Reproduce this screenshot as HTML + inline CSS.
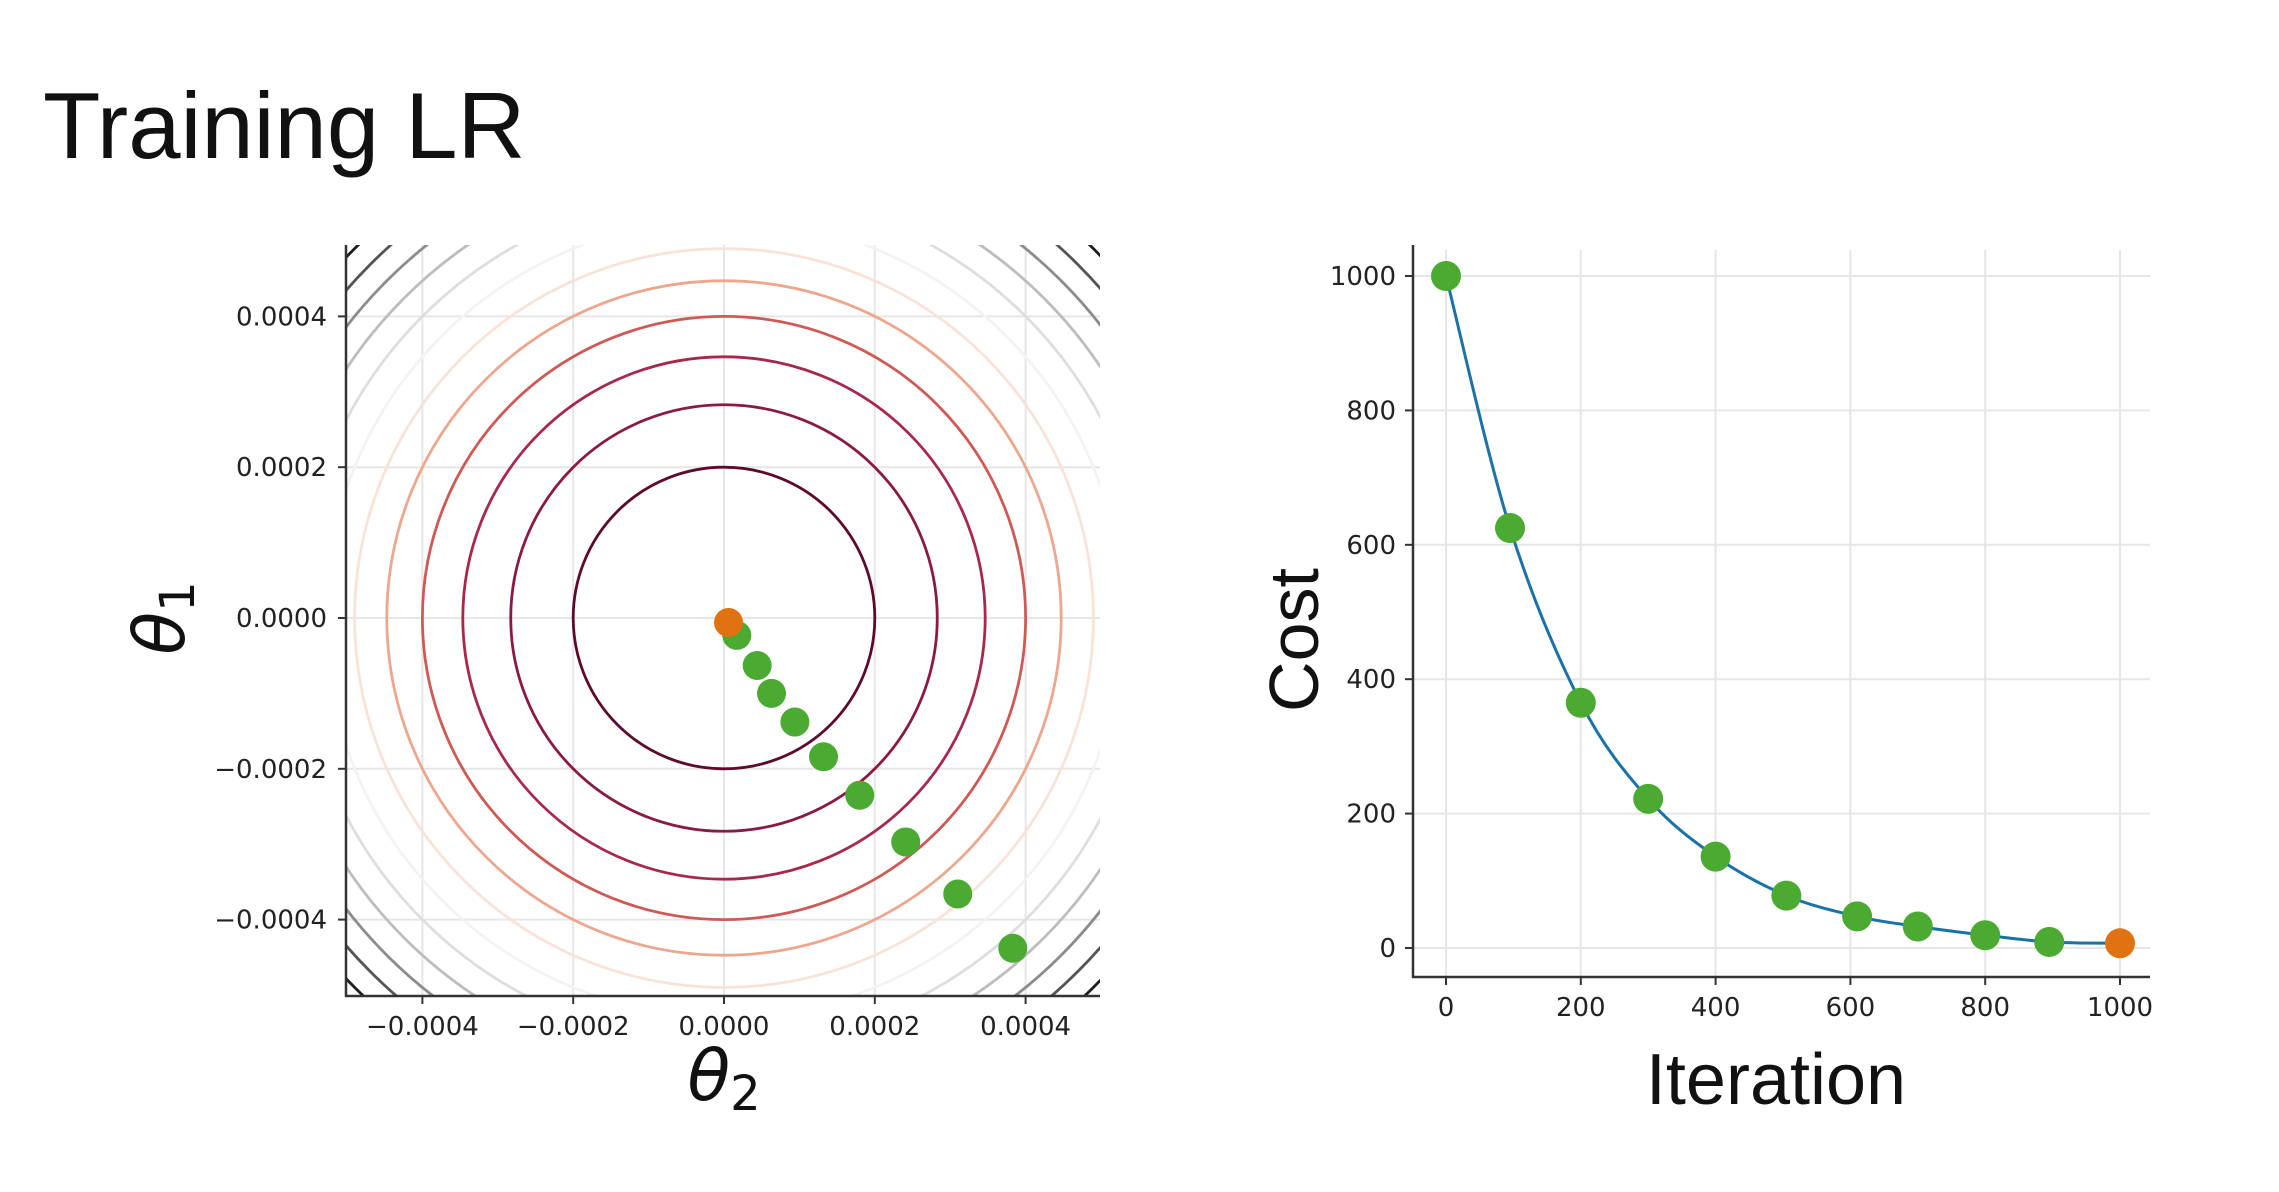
<!DOCTYPE html>
<html><head><meta charset="utf-8"><style>
html,body{margin:0;padding:0;background:#fff;width:2279px;height:1192px;overflow:hidden}
svg text{font-family:"DejaVu Sans","Liberation Sans",sans-serif}
</style></head><body>
<svg id="svg" width="2279" height="1192" viewBox="0 0 2279 1192" xmlns="http://www.w3.org/2000/svg">
<text x="43" y="158" font-size="94" fill="#111" style="font-family:'Liberation Sans',sans-serif">Training LR</text>
<defs><clipPath id="clipL"><rect x="346" y="245" width="754" height="751"/></clipPath></defs>
<g id="left"></g>
<g id="right"></g>
</svg>
<script>
// ---- contour plot data ----
const contourLevels = [1,2,3,4,5,6,7,8,9,10,11,12]; // r^2 in units of (0.0002)^2
const contourColors = ["#5e0a2e","#8a1a45","#a8284c","#cf5a55","#eca78e","#f9e3d8","#f3f3f3","#dedede","#bdbdbd","#8c8c8c","#555555","#1e1e1e"];
const pathTheta2 = [0.000017,0.000044,0.000063,0.000094,0.000132,0.00018,0.000241,0.00031,0.000383];
const pathTheta1 = [-0.000023,-0.000063,-0.0001,-0.000138,-0.000184,-0.000235,-0.000297,-0.000366,-0.000438];
const optTheta2 = [0.000006];
const optTheta1 = [-0.000006];
const leftTicks = [-0.0004,-0.0002,0,0.0002,0.0004];
const leftTickLabels = ["\u22120.0004","\u22120.0002","0.0000","0.0002","0.0004"];
// ---- cost plot data ----
const iterations = [0,95,200,300,400,505,610,700,800,895,1000];
const costs = [1000,625,365,222,136,78,47,32,19,9,7];
const xTicksR = [0,200,400,600,800,1000];
const yTicksR = [0,200,400,600,800,1000];
const xTickLabelsR = ["0","200","400","600","800","1000"];
const yTickLabelsR = ["0","200","400","600","800","1000"];

const NS="http://www.w3.org/2000/svg";
function mk(parent,tag,attrs,text){const e=document.createElementNS(NS,tag);for(const k in attrs)e.setAttribute(k,attrs[k]);if(text!==undefined)e.textContent=text;parent.appendChild(e);return e;}

// Left axes
const L=document.getElementById('left');
const lx=v=>724+v/0.0001*75.4, ly=v=>618-v/0.0001*75.4;
leftTicks.forEach((t,i)=>{
  let g=mk(L,'line',{x1:lx(t),x2:lx(t),y1:245,y2:996,stroke:'#e6e6e6','stroke-width':2});
  
  
  g=mk(L,'line',{x1:346,x2:1100,y1:ly(t),y2:ly(t),stroke:'#e6e6e6','stroke-width':2});
  
  
});
const cg=mk(L,'g',{'clip-path':'url(#clipL)'});


contourLevels.forEach((k,i)=>{
  const r=0.0002*Math.sqrt(k);
  const c=mk(cg,'ellipse',{cx:lx(0),cy:ly(0),rx:lx(r)-lx(0),ry:ly(0)-ly(r),fill:'none',stroke:contourColors[i],'stroke-width':2.8});
  
  
});
pathTheta2.forEach((v,i)=>{
  const c=mk(L,'circle',{cx:lx(v),cy:ly(pathTheta1[i]),r:14.5,fill:'#4aaa32'});
  
  
});
optTheta2.forEach((v,i)=>{
  const c=mk(L,'circle',{cx:lx(v),cy:ly(optTheta1[i]),r:14.5,fill:'#e07212'});
  
  
});
let s=mk(L,'line',{x1:346,x2:346,y1:245,y2:997,stroke:'#333','stroke-width':2.5});


s=mk(L,'line',{x1:345,x2:1100,y1:996,y2:996,stroke:'#333','stroke-width':2.5});


leftTicks.forEach((t,i)=>{
  mk(L,'line',{x1:lx(t),x2:lx(t),y1:996,y2:1004,stroke:'#333','stroke-width':2});
  mk(L,'line',{x1:338,x2:346,y1:ly(t),y2:ly(t),stroke:'#333','stroke-width':2});
  let a=mk(L,'text',{x:lx(t),y:1035,'font-size':26,'text-anchor':'middle',fill:'#222'},leftTickLabels[i]);
  
  
  a=mk(L,'text',{x:327,y:ly(t)+9,'font-size':26,'text-anchor':'end',fill:'#222'},leftTickLabels[i]);
  
  
});
let xt=mk(L,'text',{x:724,y:1100,'font-size':70,'font-style':'italic','text-anchor':'middle',fill:'#111'});


xt.innerHTML='θ<tspan font-size="48" font-style="normal" dy="10">2</tspan>';
let yt=mk(L,'text',{x:0,y:0,'font-size':70,'font-style':'italic','text-anchor':'middle',fill:'#111',transform:'translate(184,618) rotate(-90)'});


yt.innerHTML='θ<tspan font-size="48" font-style="normal" dy="10">1</tspan>';

// Right axes
const R=document.getElementById('right');
const rx=v=>1446+v/1000*674, ry=v=>948-v/1000*672;
xTicksR.forEach((t,i)=>{
  const g=mk(R,'line',{x1:rx(t),x2:rx(t),y1:250,y2:977,stroke:'#e6e6e6','stroke-width':2});
  
  
});
yTicksR.forEach((t,i)=>{
  const g=mk(R,'line',{x1:1413,x2:2150,y1:ry(t),y2:ry(t),stroke:'#e6e6e6','stroke-width':2});
  
  
});
const P=iterations.map((v,i)=>[rx(v),ry(costs[i])]);
let d='M'+P[0][0]+','+P[0][1];
for(let i=0;i<P.length-1;i++){
  const p0=P[Math.max(i-1,0)],p1=P[i],p2=P[i+1],p3=P[Math.min(i+2,P.length-1)];
  d+=' C'+(p1[0]+(p2[0]-p0[0])/6)+','+(p1[1]+(p2[1]-p0[1])/6)+' '+(p2[0]-(p3[0]-p1[0])/6)+','+(p2[1]-(p3[1]-p1[1])/6)+' '+p2[0]+','+p2[1];
}
const ln=mk(R,'path',{d:d,fill:'none',stroke:'#1b72a8','stroke-width':3});


iterations.forEach((v,i)=>{
  const last=i===iterations.length-1;
  const c=mk(R,'circle',{cx:rx(v),cy:ry(costs[i]),r:15,fill:last?'#e07212':'#4aaa32'});
  
  
});
s=mk(R,'line',{x1:1413,x2:1413,y1:245,y2:978,stroke:'#333','stroke-width':2.5});


s=mk(R,'line',{x1:1412,x2:2150,y1:977,y2:977,stroke:'#333','stroke-width':2.5});


xTicksR.forEach((t,i)=>{
  mk(R,'line',{x1:rx(t),x2:rx(t),y1:977,y2:985,stroke:'#333','stroke-width':2});
  const a=mk(R,'text',{x:rx(t),y:1016,'font-size':26,'text-anchor':'middle',fill:'#222'},xTickLabelsR[i]);
  
  
});
yTicksR.forEach((t,i)=>{
  mk(R,'line',{x1:1405,x2:1413,y1:ry(t),y2:ry(t),stroke:'#333','stroke-width':2});
  const a=mk(R,'text',{x:1396,y:ry(t)+9,'font-size':26,'text-anchor':'end',fill:'#222'},yTickLabelsR[i]);
  
  
});
let rxt=mk(R,'text',{x:1776,y:1104,'font-size':72,'text-anchor':'middle',fill:'#111',style:"font-family:'Liberation Sans',sans-serif"},'Iteration');


let ryt=mk(R,'text',{x:0,y:0,'font-size':70,'text-anchor':'middle',fill:'#111',style:"font-family:'Liberation Sans',sans-serif",transform:'translate(1318,640) rotate(-90)'},'Cost');


</script>
</body></html>
